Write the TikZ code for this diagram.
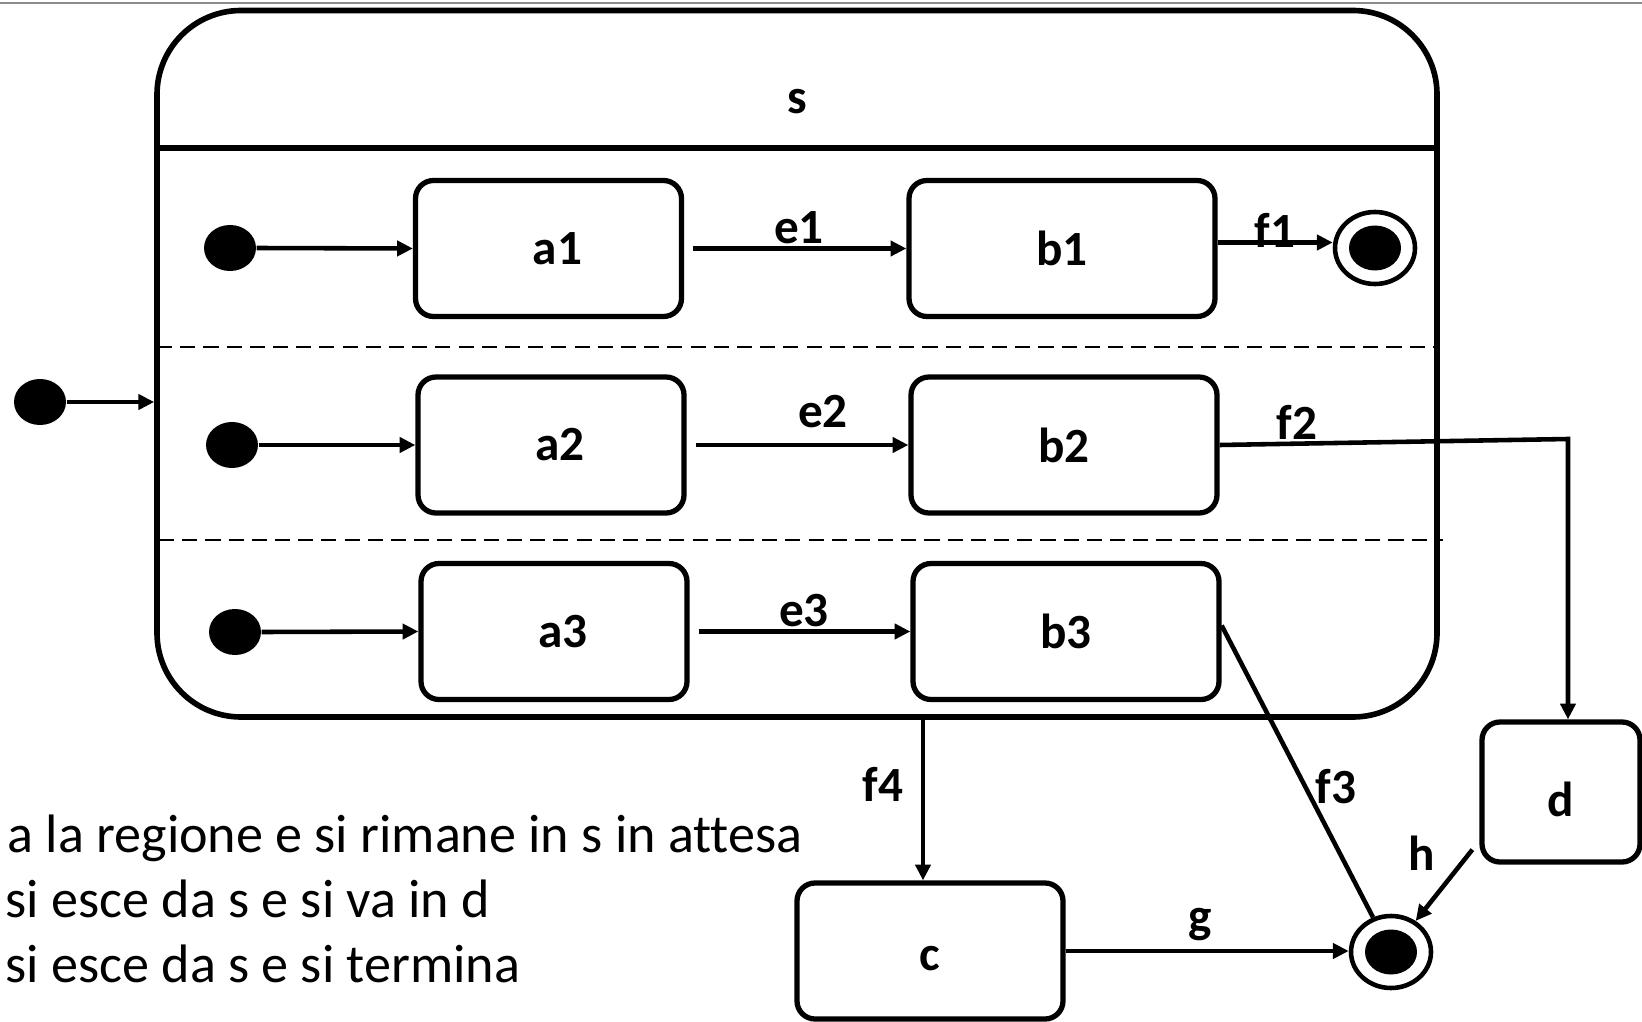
\documentclass[tikz,border=0pt]{standalone}
\usepackage{fontspec}
\setmainfont{Carlito}[Ligatures=NoCommon]
\usetikzlibrary{arrows.meta}
\usetikzlibrary{shapes.geometric}
\usetikzlibrary{positioning}

\begin{document}
\begin{tikzpicture}[
  stbox/.style={draw,line width=1.5pt,rounded corners=0.18cm,minimum width=2.66cm,minimum height=1.36cm,inner sep=0pt,font=\fontsize{14}{16}\selectfont\bfseries},
  initdot/.style={ellipse,fill=black,minimum width=0.52cm,minimum height=0.46cm,inner sep=0pt},
  findot/.style={ellipse,draw,line width=1.3pt,minimum width=0.8cm,minimum height=0.72cm,inner sep=0pt,
    path picture={\fill (path picture bounding box.center) ellipse (0.26cm and 0.225cm);}},
  tr/.style={line width=1.3pt,-{Triangle[length=4.5pt,width=4.3pt]}},
  lbl/.style={font=\fontsize{14}{16}\selectfont\bfseries,inner sep=0pt},
  txt/.style={anchor=base west,inner sep=0pt,font=\fontsize{15.4}{18}\selectfont},
  sep/.style={line width=0.6pt,dash pattern=on 4.3pt off 2.3pt}]
\useasboundingbox (0,0) rectangle (16.42,10.21);
\draw[black!45,line width=0.6pt] (0,10.18) -- (16.42,10.18);

% composite state s
\node[draw,line width=1.6pt,rounded corners=0.84cm,minimum width=12.8cm,minimum height=7.065cm,inner sep=0pt] (s) at (7.97,6.5725) {};
\draw[line width=1.6pt] (s.west |- 0,8.73) -- (s.east |- 0,8.73);
\node[lbl] (sname) at (7.97,9.19) {s};
\draw[sep] (1.57,6.74) -- (14.40,6.74);
\draw[sep] (1.59,4.81) -- (14.43,4.81);

\node[initdot] (i0) at (0.40,6.19) {};
\node[initdot] (i1) at (2.30,7.73) {};
\node[initdot] (i2) at (2.32,5.76) {};
\node[initdot] (i3) at (2.35,3.89) {};

\node[stbox] (a1) at (5.485,7.725) {\hspace*{0.18cm}a1};
\node[stbox] (a2) at (5.51,5.76) {\hspace*{0.18cm}a2};
\node[stbox] (a3) at (5.54,3.895) {\hspace*{0.18cm}a3};
\node[stbox,minimum width=3.06cm] (b1) at (10.62,7.725) {b1};
\node[stbox,minimum width=3.06cm] (b2) at (10.64,5.76) {b2};
\node[stbox,minimum width=3.06cm] (b3) at (10.66,3.895) {b3};
\node[stbox,text height=0.39cm,text depth=0pt] (c) at (9.30,0.70) {c};
\node[stbox,minimum width=1.58cm,minimum height=1.40cm,text height=0.48cm,text depth=0pt] (d) at (15.61,2.29) {d};
\node[findot] (fin1) at (13.75,7.73) {};
\node[findot] (fin2) at (13.91,0.69) {};

\draw[tr] (i0.east) -- (i0.east -| s.west);
\draw[tr] (i1.east) -- (a1.west);
\draw[tr] (i2.east) -- (a2.west);
\draw[tr] (i3.east) -- (a3.west);
\draw[tr] ([xshift=0.09cm]a1.east) -- (b1.west);
\draw[tr] ([xshift=0.09cm]a2.east) -- (b2.west);
\draw[tr] ([xshift=0.09cm]a3.east) -- (b3.west);
\draw[tr] ([yshift=0.06cm]b1.east) -- ([yshift=0.06cm]b1.east -| fin1.west);
\coordinate (k2) at (15.68,5.82);
\draw[tr] (b2.east) -- (k2) -- (k2 |- d.north);
\draw[line width=1.3pt] ([yshift=0.06cm]b3.east) -- (fin2);
\coordinate (k4) at (9.23,3.04);
\draw[tr] (k4) -- (k4 |- c.north);
\draw[tr] (c.east) -- (c.east -| fin2.west);
\draw[tr] ([xshift=-0.07cm,yshift=0.15cm]d.south west) -- (fin2);

\node[lbl] (le1) at (7.99,7.935) {e1};
\node[lbl] (le2) at (8.23,6.09) {e2};
\node[lbl] (le3) at (8.04,4.10) {e3};
\node[lbl] (lf1) at (12.75,7.91) {f1};
\node[lbl] (lf2) at (12.97,5.99) {f2};
\node[lbl] (lf3) at (13.36,2.34) {f3};
\node[lbl] (lf4) at (8.83,2.37) {f4};
\node[lbl] (lg) at (12.00,0.96) {g};
\node[lbl] (lh) at (14.22,1.68) {h};

\node[txt] (t1) at (0.07,1.69) {a la regione e si rimane in s in attesa};
\node[txt] (t2) at (0.05,1.04) {si esce da s e si va in d};
\node[txt] (t3) at (0.05,0.39) {si esce da s e si termina};
\end{tikzpicture}
\end{document}
